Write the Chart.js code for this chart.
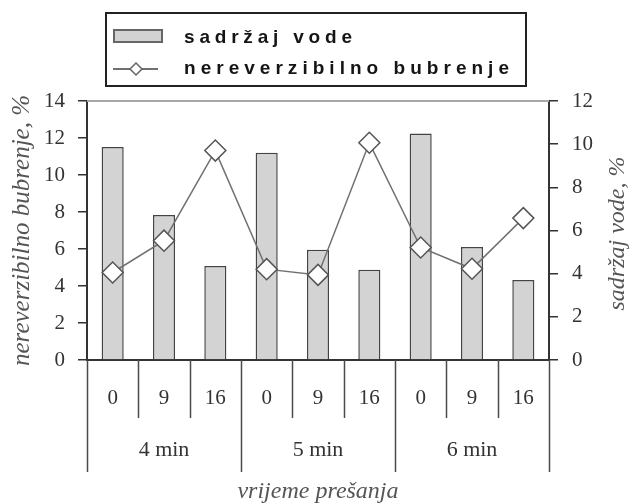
<!DOCTYPE html>
<html><head><meta charset="utf-8">
<script src="https://cdn.jsdelivr.net/npm/chart.js@4.4.0/dist/chart.umd.min.js"></script>
<style>html,body{margin:0;padding:0;background:#fff}#wrap{width:630px;height:504px;position:relative}</style>
</head><body><div id="wrap"><canvas id="c" width="630" height="504"></canvas></div>
<script>
const categories = ['0', '9', '16', '0', '9', '16', '0', '9', '16'];
const groups = ['4 min', '5 min', '6 min'];
const waterContent = [9.87, 6.72, 4.36, 9.60, 5.11, 4.18, 10.49, 5.23, 3.71];
const swelling = [4.73, 6.45, 11.32, 4.91, 4.60, 11.74, 6.08, 4.93, 7.67];
const leftTitle = 'nereverzibilno bubrenje, %';
const rightTitle = 'sadržaj vode, %';
const xTitle = 'vrijeme prešanja';
const leftMax = 14, rightMax = 12, tickStep = 2;

const SERIF = '"Liberation Serif", "Times New Roman", serif';
const LEG_FONT = 'bold 19px "Liberation Sans Narrow", "Liberation Sans", Arial, sans-serif';

function spacedText(ctx, text, x, y, targetWidth) {
  ctx.letterSpacing = '0px';
  const w0 = ctx.measureText(text).width;
  const n = [...text].length;
  const ls = Math.max(0, (targetWidth - w0) / (n - 1));
  ctx.letterSpacing = ls.toFixed(2) + 'px';
  ctx.fillText(text, x, y);
  ctx.letterSpacing = '0px';
}

const extras = {
  id: 'extras',
  afterDraw(chart) {
    const ctx = chart.ctx, a = chart.chartArea, xs = chart.scales.x;
    ctx.save();
    // top border of plot
    ctx.strokeStyle = '#a8a8a8'; ctx.lineWidth = 2;
    ctx.beginPath(); ctx.moveTo(a.left, a.top); ctx.lineTo(a.right, a.top); ctx.stroke();
    // separators
    const step = xs.getPixelForValue(1) - xs.getPixelForValue(0);
    const b0 = xs.getPixelForValue(0) - step / 2;
    ctx.strokeStyle = '#4a4a4a'; ctx.lineWidth = 1.5;
    for (let i = 0; i <= categories.length; i++) {
      const x = Math.round(b0 + i * step) + 0.5;
      const yEnd = (i % 3 === 0) ? a.bottom + 112 : a.bottom + 58;
      ctx.beginPath(); ctx.moveTo(x, a.bottom); ctx.lineTo(x, yEnd); ctx.stroke();
    }
    // group labels
    ctx.fillStyle = '#333';
    ctx.font = '22px ' + SERIF;
    ctx.textAlign = 'center'; ctx.textBaseline = 'middle';
    groups.forEach((g, k) => {
      ctx.fillText(g, b0 + (3 * k + 1.5) * step, a.bottom + 90);
    });
    // right title rotated like the left one
    ctx.save();
    ctx.translate(618, (a.top + a.bottom) / 2 + 3);
    ctx.rotate(-Math.PI / 2);
    ctx.fillStyle = '#555';
    ctx.font = 'italic 24px ' + SERIF;
    ctx.fillText(rightTitle, 0, 0);
    ctx.restore();
    // legend
    const bar = chart.data.datasets.find(d => d.type === 'bar');
    const line = chart.data.datasets.find(d => d.type === 'line');
    ctx.strokeStyle = '#222'; ctx.lineWidth = 2;
    ctx.strokeRect(106, 13, 420, 73);
    ctx.fillStyle = bar.backgroundColor; ctx.strokeStyle = '#666'; ctx.lineWidth = 2;
    ctx.fillRect(114, 30, 48, 12); ctx.strokeRect(114, 30, 48, 12);
    ctx.strokeStyle = line.borderColor; ctx.lineWidth = 2;
    ctx.beginPath(); ctx.moveTo(113, 69); ctx.lineTo(158, 69); ctx.stroke();
    ctx.fillStyle = '#fff'; ctx.strokeStyle = '#666'; ctx.lineWidth = 1.5;
    ctx.beginPath(); ctx.moveTo(136 - 6, 69); ctx.lineTo(136, 63); ctx.lineTo(142, 69); ctx.lineTo(136, 75); ctx.closePath();
    ctx.fill(); ctx.stroke();
    ctx.fillStyle = '#151515';
    ctx.font = LEG_FONT;
    ctx.textAlign = 'left'; ctx.textBaseline = 'alphabetic';
    spacedText(ctx, bar.label, 184, 43, 168);
    spacedText(ctx, line.label, 184, 74, 325);
    ctx.restore();
  }
};

new Chart(document.getElementById('c'), {
  type: 'bar',
  data: {
    labels: categories,
    datasets: [
      {
        type: 'line', label: 'nereverzibilno bubrenje', data: swelling, yAxisID: 'y',
        borderColor: '#707070', borderWidth: 1.5, tension: 0,
        pointStyle: 'rectRot', pointRadius: 10.5, pointBackgroundColor: '#fff',
        pointBorderColor: '#555', pointBorderWidth: 1.5, order: 0
      },
      {
        type: 'bar', label: 'sadržaj vode', data: waterContent, yAxisID: 'y1',
        backgroundColor: '#d3d3d3', borderColor: '#444', borderWidth: 1.5,
        barPercentage: 0.43, categoryPercentage: 1, order: 1
      }
    ]
  },
  options: {
    responsive: false, animation: false,
    layout: { padding: { top: 101, left: 0, right: 0, bottom: 0 } },
    plugins: { legend: { display: false }, tooltip: { enabled: false } },
    scales: {
      x: {
        offset: true,
        grid: { display: false },
        border: { display: true, color: '#333', width: 2 },
        ticks: { color: '#333', font: { family: SERIF, size: 21 }, padding: 18 },
        title: { display: true, text: xTitle, color: '#555', font: { family: SERIF, size: 24, style: 'italic', lineHeight: 1 }, padding: { top: 0, bottom: 0 } },
        afterFit(s) { s.height = 144; }
      },
      y: {
        position: 'left', min: 0, max: leftMax,
        ticks: { stepSize: tickStep, color: '#333', font: { family: SERIF, size: 21 }, padding: 13 },
        grid: { drawOnChartArea: false, drawTicks: true, tickLength: 9, color: '#333', lineWidth: 1.5 },
        border: { display: true, color: '#333', width: 2 },
        title: { display: true, text: leftTitle, color: '#555', font: { family: SERIF, size: 25, style: 'italic', lineHeight: 1 }, padding: { top: 10, bottom: 0 } },
        afterFit(s) { s.width = 87; }
      },
      y1: {
        position: 'right', min: 0, max: rightMax,
        ticks: { stepSize: tickStep, color: '#333', font: { family: SERIF, size: 21 }, padding: 14 },
        grid: { drawOnChartArea: false, drawTicks: true, tickLength: 9, color: '#333', lineWidth: 1.5 },
        border: { display: true, color: '#333', width: 2 },
        afterFit(s) { s.width = 81; }
      }
    }
  },
  plugins: [extras]
});
</script></body></html>
